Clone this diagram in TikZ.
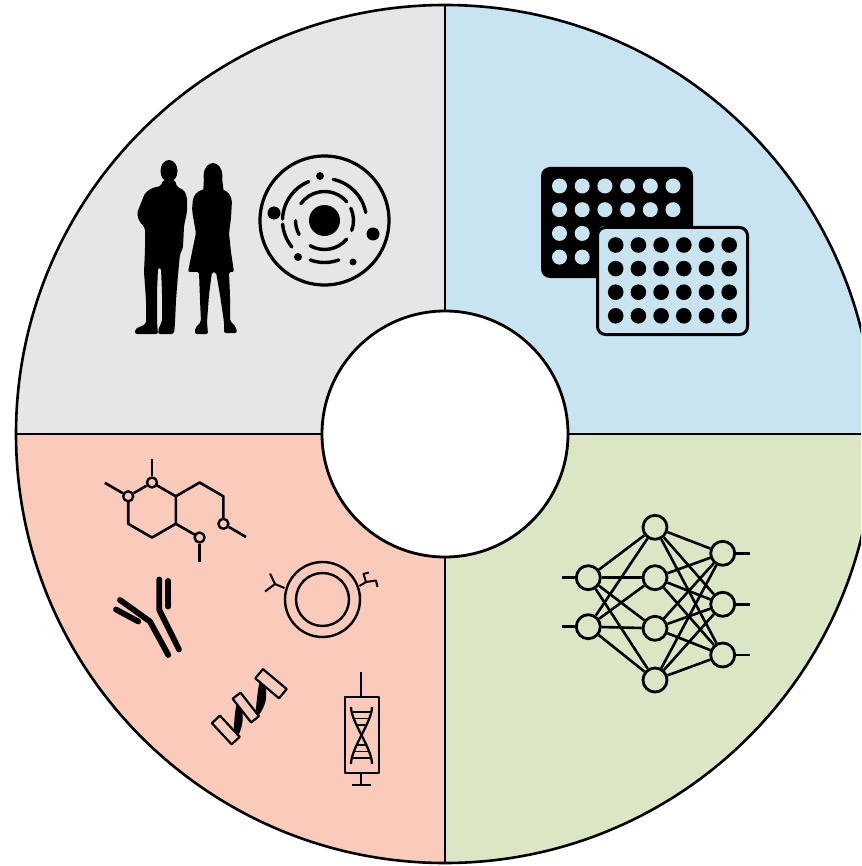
\documentclass[tikz,border=0pt]{standalone}
\usepackage{tikz}
\definecolor{peoplebg}{HTML}{E5E6E8}
\definecolor{platebg}{HTML}{C9E4F1}
\definecolor{netbg}{HTML}{DBE6C4}
\definecolor{biobg}{HTML}{FACBBA}
\begin{document}
\begin{tikzpicture}[x=1pt,y=-1pt,line join=round,
	neuron/.style ={circle, draw, line width=2.8pt, fill=netbg, minimum size=24pt, inner sep=0pt},
	atom/.style ={circle, draw, line width=2.4pt, fill=biobg, minimum size=10pt, inner sep=0pt},
	synapse/.style ={line width=2.6pt},
	bond/.style ={line width=2.6pt},
	chain/.style ={line width=5.8pt, line cap=round},
	orbit/.style ={line width=3.4pt, line cap=round},
	thin line/.style ={line width=2pt}]
	\useasboundingbox (0,0) rectangle (861,866);
	\clip (0,0) rectangle (861,866);
	\coordinate (c) at (445,434);
	\fill[peoplebg] (c) -- ++(180:429) arc[start angle=180, end angle=270, radius=429] -- cycle;
	\fill[platebg] (c) -- ++(270:429) arc[start angle=270, end angle=360, radius=429] -- cycle;
	\fill[netbg] (c) -- ++(0:429) arc[start angle=0, end angle=90, radius=429] -- cycle;
	\fill[biobg] (c) -- ++(90:429) arc[start angle=90, end angle=180, radius=429] -- cycle;
	\draw[line width=2.6pt] (c) circle[radius=429];
	\draw[line width=2.4pt] (c) ++(0,-429) -- ++(0,858);
	\draw[line width=2.4pt] (c) ++(-429,0) -- ++(858,0);
	\filldraw[fill=white, line width=2.8pt] (c) circle[radius=123];

	\fill (169,171) ellipse[x radius=8.5, y radius=11];
	\fill[rounded corners=2pt] (163,180) -- (175,180) -- (177,187) -- (184,190) -- (187,197) -- (187,212) -- (184,226) -- (183,248) -- (180,254) -- (178,275) -- (176,300) -- (175,323) -- (174,334) -- (158,334) -- (159,327) -- (162,322) -- (162,292) -- (161,268) -- (158,268) -- (157,292) -- (157,322) -- (158,334) -- (135,334) -- (135,329) -- (146,324) -- (146,300) -- (144,272) -- (145,250) -- (145,228) -- (139,221) -- (137,213) -- (141,203) -- (145,193) -- (152,188) -- (161,186) -- cycle;
	\fill (213,176) ellipse[x radius=9.5, y radius=13];
	\fill (204,178) -- (203,194) -- (224,194) -- (222,178) -- cycle;
	\fill[rounded corners=2pt] (204,189) -- (197,192) -- (193,198) -- (192,210) -- (194,222) -- (196,233) -- (192,252) -- (188,272) -- (199,272) -- (200,300) -- (201,322) -- (195,328) -- (195,334) -- (208,334) -- (207,322) -- (209,295) -- (212,272) -- (216,272) -- (220,295) -- (224,322) -- (224,333) -- (237,333) -- (236,327) -- (230,321) -- (230,295) -- (229,272) -- (234,272) -- (231,252) -- (229,233) -- (231,218) -- (232,200) -- (229,193) -- (222,189) -- cycle;

	\coordinate (orb) at (324.5,220.5);
	\draw[line width=3.2pt] (orb) circle[radius=64.5];
	\fill (orb) circle[radius=15.5];
	\draw[orbit] (orb) ++(-40:29) arc[start angle=-40, end angle=-145, radius=29];
	\draw[orbit] (orb) ++(-180:29) arc[start angle=-180, end angle=-209, radius=29];
	\draw[orbit] (orb) ++(120:29) arc[start angle=120, end angle=40, radius=29];
	\draw[orbit] (orb) ++(20:29) arc[start angle=20, end angle=-25, radius=29];
	\draw[orbit] (orb) ++(-112:42) arc[start angle=-112, end angle=-178, radius=42];
	\draw[orbit] (orb) ++(-11:42) arc[start angle=-11, end angle=-78, radius=42];
	\draw[orbit] (orb) ++(175:42) arc[start angle=175, end angle=141, radius=42];
	\draw[orbit] (orb) ++(110:42) arc[start angle=110, end angle=70, radius=42];
	\fill (274,213) circle[radius=6.5];
	\fill (373,234) circle[radius=6.5];
	\fill (320,176) circle[radius=4];
	\fill (298,257) circle[radius=4];
	\fill (353,262) circle[radius=3.5];

	\fill[rounded corners=9pt] (541,167) rectangle (693,278);
	\foreach \i in {0,...,5}
		\foreach \j in {0,...,3}
			\fill[platebg] (559.5+22.7*\i,186+23.7*\j) circle[radius=7.5];
	\filldraw[fill=platebg, line width=3pt, rounded corners=8pt] (597.5,227.5) rectangle (747.5,334.5);
	\foreach \i in {0,...,5}
		\foreach \j in {0,...,3}
			\fill (615.7+22.7*\i,245+23.6*\j) circle[radius=7.8];

	\node[neuron] (i1) at (588.3,577.7) {};
	\node[neuron] (i2) at (588.3,626.7) {};
	\node[neuron] (h1) at (655,527.3) {};
	\node[neuron] (h2) at (655,577.7) {};
	\node[neuron] (h3) at (655,628.3) {};
	\node[neuron] (h4) at (655,680) {};
	\node[neuron] (o1) at (722.7,553.3) {};
	\node[neuron] (o2) at (722.7,604.3) {};
	\node[neuron] (o3) at (722.7,655) {};
	\coordinate (x1) at (562,577.7);
	\coordinate (x2) at (562,626.7);
	\coordinate (y1) at (750,553.3);
	\coordinate (y2) at (750,604.3);
	\coordinate (y3) at (750,655);
	\draw[synapse] (x1)--(i1);
	\draw[synapse] (x2)--(i2);
	\draw[synapse] (i1)--(h1);
	\draw[synapse] (i1)--(h2);
	\draw[synapse] (i1)--(h3);
	\draw[synapse] (i1)--(h4);
	\draw[synapse] (i2)--(h1);
	\draw[synapse] (i2)--(h2);
	\draw[synapse] (i2)--(h3);
	\draw[synapse] (i2)--(h4);
	\draw[synapse] (h1)--(o1);
	\draw[synapse] (h1)--(o2);
	\draw[synapse] (h1)--(o3);
	\draw[synapse] (h2)--(o1);
	\draw[synapse] (h2)--(o2);
	\draw[synapse] (h2)--(o3);
	\draw[synapse] (h3)--(o1);
	\draw[synapse] (h3)--(o2);
	\draw[synapse] (h3)--(o3);
	\draw[synapse] (h4)--(o1);
	\draw[synapse] (h4)--(o2);
	\draw[synapse] (h4)--(o3);
	\draw[synapse] (o1)--(y1);
	\draw[synapse] (o2)--(y2);
	\draw[synapse] (o3)--(y3);

	\coordinate (m2) at (175.8,496.3);
	\coordinate (m3) at (175.8,523.8);
	\coordinate (m4) at (152,537.5);
	\coordinate (m5) at (128.2,523.8);
	\coordinate (m7) at (199.6,482.5);
	\coordinate (m8) at (223.4,496.3);
	\coordinate (s1) at (152,459);
	\coordinate (s6) at (104.8,482.8);
	\coordinate (s9) at (246,537);
	\coordinate (s10) at (199.6,562);
	\draw[bond] (152,482.5) -- (m2) -- (m3) -- (m4) -- (m5) -- (128.2,496.3);
	\draw[bond] (m2) -- (m7) -- (m8) -- (223.4,523.8);
	\draw[bond] (m3) -- (199.6,537.5);
	\node[atom] (m1) at (152,482.5) {};
	\node[atom] (m6) at (128.2,496.3) {};
	\node[atom] (m9) at (223.4,523.8) {};
	\node[atom] (m10) at (199.6,537.5) {};
	\draw[bond] (m1) -- (s1);
	\draw[bond] (m6) -- (s6);
	\draw[bond] (m9) -- (s9);
	\draw[bond] (m10) -- (s10);
	\draw[bond] (m1) -- (m6);

	\draw[chain] (159.3,579.5) -- (159.3,610) -- (179,649.5);
	\draw[chain] (168.3,581) -- (168.3,606.5);
	\draw[chain] (120,600) -- (150,621.5) -- (168.3,655);
	\draw[chain] (116,609.5) -- (138.3,621.5);

	\coordinate (ves) at (322.5,599.5);
	\draw[line width=2.4pt] (ves) circle[radius=37.5];
	\draw[line width=2.4pt] (ves) circle[radius=26.5];
	\draw[thin line] (284.5,588) -- (275,584) -- (270,573.5);
	\draw[thin line] (275,584) -- (265,591.5);
	\draw[thin line] (359.5,586) -- (366,582) -- (363.5,574) -- (369,572.5);
	\draw[thin line] (366,582) -- (376,580.5) -- (377.5,587);

	\fill (233,744) .. controls (245,728) and (245,712) .. (238,697) .. controls (234,712) and (234,728) .. cycle;
	\fill (254,721) .. controls (269,705) and (269,690) .. (261,675) .. controls (257,690) and (257,705) .. cycle;
	\filldraw[fill=biobg, line width=2.2pt, shift={(225.8,730)}, rotate=-47] (-14.5,-5.5) rectangle (14.5,5.5);
	\filldraw[fill=biobg, line width=2.2pt, shift={(245.8,707.5)}, rotate=-52] (-15,-5) rectangle (15,5);
	\filldraw[fill=biobg, line width=2.2pt, shift={(271,683.7)}, rotate=-40] (-15.5,-6) rectangle (15.5,6);

	\draw[thin line] (361,672) -- (361,697.3);
	\draw[thin line] (345,697.3) rectangle (379,773.3);
	\draw[thin line] (361,773.3) -- (361,784.5);
	\draw[thin line] (352,784.5) -- (371,784.5);
	\draw[line width=2.3pt] (351,707) .. controls (351,722) and (372,748) .. (372,764);
	\draw[line width=2.3pt] (372,707) .. controls (372,722) and (351,748) .. (351,764);
	\draw[line width=1.6pt] (352.5,712) -- (370.5,712);
	\draw[line width=1.6pt] (354,718.5) -- (369,718.5);
	\draw[line width=1.6pt] (357,725) -- (366,725);
	\draw[line width=1.6pt] (357,745) -- (366,745);
	\draw[line width=1.6pt] (354,751.5) -- (369,751.5);
	\draw[line width=1.6pt] (352.5,758) -- (370.5,758);
\end{tikzpicture}
\end{document}
